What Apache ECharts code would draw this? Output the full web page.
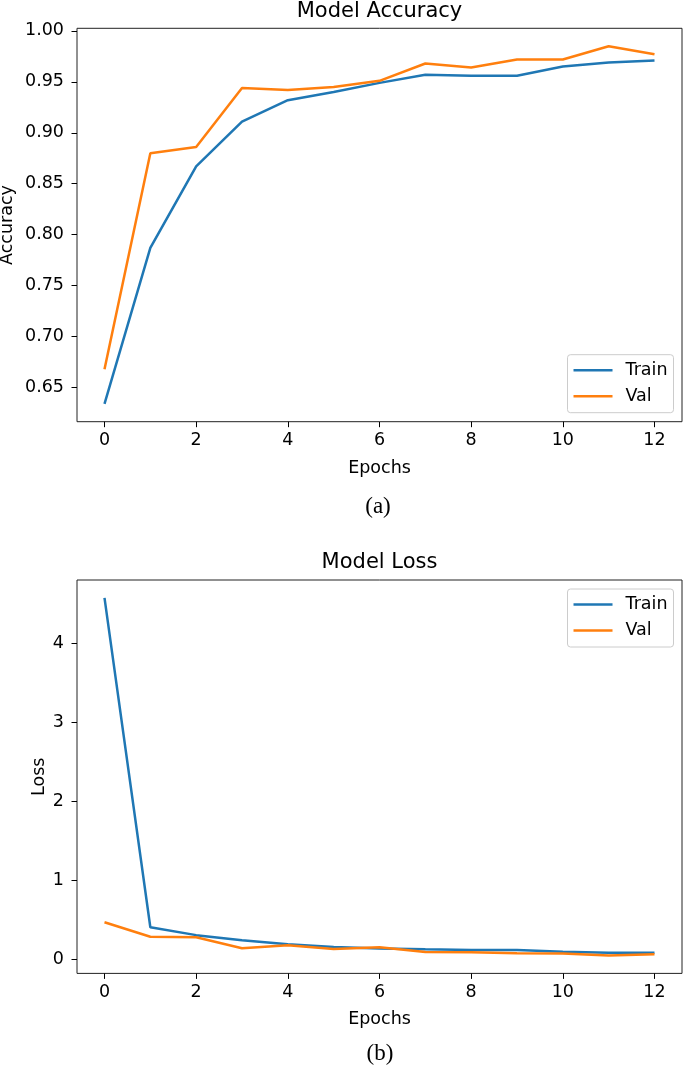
<!DOCTYPE html>
<html>
<head>
<meta charset="utf-8">
<script src="https://cdn.jsdelivr.net/npm/echarts@6/dist/echarts.min.js"></script>
<style>
html,body{margin:0;padding:0;background:#fff;}
#chart{width:685px;height:1067px;}
</style>
</head>
<body>
<div id="chart"></div>
<script>
const epochs = [0,1,2,3,4,5,6,7,8,9,10,11,12];
const accTrain = [0.634,0.787,0.867,0.911,0.932,0.940,0.949,0.957,0.956,0.956,0.965,0.969,0.971];
const accVal   = [0.668,0.880,0.886,0.944,0.942,0.945,0.951,0.968,0.964,0.972,0.972,0.985,0.977];
const lossTrain = [4.58,0.41,0.31,0.245,0.195,0.16,0.14,0.13,0.123,0.122,0.10,0.088,0.087];
const lossVal   = [0.473,0.29,0.283,0.144,0.182,0.135,0.157,0.097,0.093,0.082,0.078,0.052,0.068];
const epochTicks = [0,2,4,6,8,10,12];
const accTicks = [0.65,0.70,0.75,0.80,0.85,0.90,0.95,1.00];
const lossTicks = [0,1,2,3,4];

const FONT = 'DejaVu Sans';
const FS = 17.5;

function padRange(arrs){
  const all = [].concat(...arrs);
  const lo = Math.min(...all), hi = Math.max(...all);
  const m = (hi - lo) * 0.05;
  return [lo - m, hi + m];
}
const accRange = padRange([accTrain, accVal]);
const lossRange = padRange([lossTrain, lossVal]);
const xRange = [epochs[0] - 0.05*(epochs[epochs.length-1]-epochs[0]), epochs[epochs.length-1] + 0.05*(epochs[epochs.length-1]-epochs[0])];

function xAxis(gi){
  return {
    type:'value', gridIndex:gi, min:xRange[0], max:xRange[1],
    name:'Epochs', nameLocation:'middle', nameGap:37.5,
    nameTextStyle:{fontFamily:FONT,fontSize:FS,color:'#000'},
    axisLine:{show:false,onZero:false},
    axisTick:{show:true,length:5.5,lineStyle:{color:'#000',width:1},customValues:epochTicks},
    axisLabel:{show:true,margin:10,fontFamily:FONT,fontSize:FS,color:'#000',customValues:epochTicks,formatter:v=>String(Math.round(v))},
    splitLine:{show:false}
  };
}
function yAxis(gi,range,ticks,name,gap,fmt){
  return {
    type:'value', gridIndex:gi, min:range[0], max:range[1],
    name:name, nameLocation:'middle', nameGap:gap, nameRotate:90, nameMoveOverlap:false,
    nameTextStyle:{fontFamily:FONT,fontSize:FS,color:'#000'},
    axisLine:{show:false,onZero:false},
    axisTick:{show:true,length:5.5,lineStyle:{color:'#000',width:1},customValues:ticks},
    axisLabel:{show:true,margin:13,fontFamily:FONT,fontSize:FS,color:'#000',customValues:ticks,formatter:fmt},
    splitLine:{show:false}
  };
}
function line(name,xi,vals,color){
  return {
    type:'line', name:name, xAxisIndex:xi, yAxisIndex:xi,
    data: epochs.map((e,i)=>[e, vals[i]]),
    showSymbol:false, symbol:'none',
    lineStyle:{color:color,width:2.5}, itemStyle:{color:color},
    animation:false
  };
}
function legend(pos){
  return Object.assign({
    orient:'vertical', right:11.5,
    data:[{name:'Train',icon:'rect'},{name:'Val',icon:'rect'}],
    itemWidth:39, itemHeight:2.6, itemGap:5,
    padding:[5,6,6,6],
    backgroundColor:'rgba(255,255,255,0.8)', borderColor:'#cccccc', borderWidth:1, borderRadius:3,
    textStyle:{fontFamily:FONT,fontSize:FS,color:'#000',lineHeight:21,padding:[0,0,0,8]},
    selectedMode:false
  }, pos);
}

const chart = echarts.init(document.getElementById('chart'), null, {renderer:'canvas'});
chart.setOption({
  animation:false,
  backgroundColor:'#fff',
  grid:[
    {left:77, right:3, top:28.3, height:393.4, show:true, borderColor:'#222', borderWidth:1, backgroundColor:'transparent', containLabel:false, outerBoundsMode:'none'},
    {left:77, right:3, top:580, height:393.4, show:true, borderColor:'#222', borderWidth:1, backgroundColor:'transparent', containLabel:false, outerBoundsMode:'none'}
  ],
  xAxis:[xAxis(0), xAxis(1)],
  yAxis:[
    yAxis(0, accRange, accTicks, 'Accuracy', 61, v=>v.toFixed(2)),
    yAxis(1, lossRange, lossTicks, 'Loss', 29, v=>String(Math.round(v)))
  ],
  legend:[
    legend({bottom:1067-412.7}),
    legend({top:589})
  ],
  series:[
    line('Train',0,accTrain,'#1f77b4'),
    line('Val',0,accVal,'#ff7f0e'),
    line('Train',1,lossTrain,'#1f77b4'),
    line('Val',1,lossVal,'#ff7f0e')
  ],
  graphic:[
    {type:'text', x:379.5, y:11.5, style:{text:'Model Accuracy', fontFamily:FONT, fontSize:21, fill:'#000', align:'center', verticalAlign:'middle'}},
    {type:'text', x:379.5, y:563, style:{text:'Model Loss', fontFamily:FONT, fontSize:21, fill:'#000', align:'center', verticalAlign:'middle'}},
    {type:'text', x:378, y:506.5, style:{text:'(a)', fontFamily:'Liberation Serif', fontSize:23, fill:'#000', align:'center', verticalAlign:'middle'}},
    {type:'text', x:380, y:1054, style:{text:'(b)', fontFamily:'Liberation Serif', fontSize:23, fill:'#000', align:'center', verticalAlign:'middle'}}
  ]
});
</script>
</body>
</html>
